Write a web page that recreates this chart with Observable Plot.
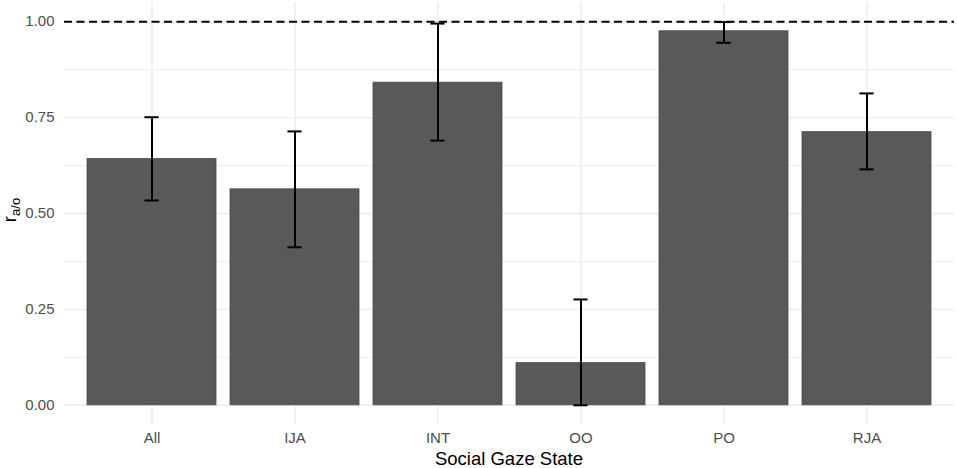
<!DOCTYPE html>
<html>
<head>
<meta charset="utf-8">
<script src="https://cdn.jsdelivr.net/npm/d3@7"></script>
<script src="https://cdn.jsdelivr.net/npm/@observablehq/plot@0.6"></script>
<style>
  html, body { margin: 0; padding: 0; background: #fff; }
  svg { display: block; }
</style>
</head>
<body>
<div id="chart"></div>
<script>
const categories = ["All", "IJA", "INT", "OO", "PO", "RJA"];
const values = [0.642, 0.563, 0.841, 0.110, 0.975, 0.712];
const lower  = [0.534, 0.412, 0.690, 0.000, 0.945, 0.615];
const upper  = [0.751, 0.714, 0.995, 0.276, 0.999, 0.813];
const majorTicks = [0, 0.25, 0.5, 0.75, 1];
const minorTicks = [0.125, 0.375, 0.625, 0.875];
const refLine = [1];
const xTitle = "Social Gaze State";

const data = categories.map((c, i) => ({cat: c, value: values[i], lo: lower[i], hi: upper[i]}));

const W = 957, H = 468;
const mL = 64, mR = 3, mT = 2, mB = 44;
const step = (W - mL - mR) / (categories.length - 0.1 + 0.3);
const capHalf = step * 0.05;
const band = step * 0.9;
const inset = band / 2 - capHalf;

const chart = Plot.plot({
  width: W, height: H,
  marginLeft: mL, marginRight: mR, marginTop: mT, marginBottom: mB,
  style: {fontFamily: "'Liberation Sans', Arial, sans-serif", fontSize: "15px", background: "#fff"},
  x: {domain: categories, paddingInner: 0.1, paddingOuter: 0.15, axis: null},
  y: {domain: [-0.05, 1.05], axis: null},
  marks: [
    Plot.ruleY(minorTicks, {stroke: "#ebebeb", strokeWidth: 0.8}),
    Plot.ruleY(majorTicks, {stroke: "#ebebeb", strokeWidth: 1.4}),
    Plot.ruleX(categories, {x: d => d, stroke: "#ebebeb", strokeWidth: 1.4}),
    Plot.barY(data, {x: "cat", y: "value", fill: "#595959", stroke: "#4a4a4a", strokeWidth: 0.8}),
    Plot.ruleY(refLine, {stroke: "#000", strokeWidth: 2, strokeDasharray: "8,4.5"}),
    Plot.ruleX(data, {x: "cat", y1: "lo", y2: "hi", stroke: "#000", strokeWidth: 2}),
    Plot.tickY(data, {x: "cat", y: "lo", stroke: "#000", strokeWidth: 2, insetLeft: inset, insetRight: inset}),
    Plot.tickY(data, {x: "cat", y: "hi", stroke: "#000", strokeWidth: 2, insetLeft: inset, insetRight: inset}),
    Plot.axisY({ticks: majorTicks, tickFormat: d3.format(".2f"), tickSize: 0, tickPadding: 10, fill: "#4d4d4d", fontSize: 15, label: null}),
    Plot.axisX({tickSize: 0, tickPadding: 8, fill: "#4d4d4d", fontSize: 15, label: null})
  ]
});

const svg = d3.select(chart);
svg.append("text")
  .attr("x", (mL + W - mR) / 2)
  .attr("y", 465)
  .attr("text-anchor", "middle")
  .attr("fill", "#000")
  .style("font-size", "18.5px")
  .text(xTitle);

const yt = svg.append("text")
  .attr("transform", "translate(16,210) rotate(-90)")
  .attr("text-anchor", "middle")
  .attr("fill", "#000")
  .style("font-size", "18.5px");
yt.append("tspan").text("r");
yt.append("tspan").attr("dy", "0.3em").style("font-size", "13px").text("a/o");

document.getElementById("chart").appendChild(chart);
</script>
</body>
</html>
